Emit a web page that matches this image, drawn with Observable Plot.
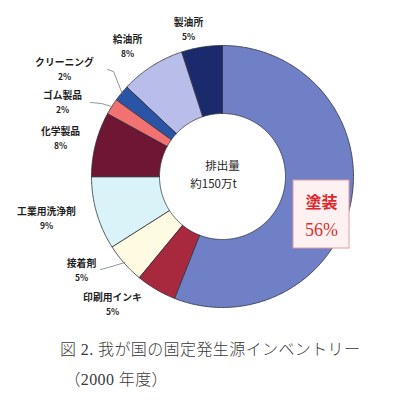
<!DOCTYPE html>
<html>
<head>
<meta charset="utf-8">
<script src="https://cdn.jsdelivr.net/npm/d3@7"></script>
<script src="https://cdn.jsdelivr.net/npm/@observablehq/plot@0.6"></script>
<style>
  html, body { margin: 0; padding: 0; background: #fff; }
  #chart { width: 400px; }
  #caption {
    font-family: "Liberation Serif", "Noto Sans CJK JP", serif;
    font-size: 16px; line-height: 30px; color: #3a3a3a;
    padding-left: 60px; letter-spacing: 0.4px; font-weight: 300;
  }
</style>
</head>
<body>
<div id="chart"></div>
<div id="caption">図 2. 我が国の固定発生源インベントリー<br>&nbsp;（2000 年度）</div>
<script>
// ---- data (clockwise from 12 o'clock) ----
const categories = ["塗装", "印刷用インキ", "接着剤", "工業用洗浄剤", "化学製品", "ゴム製品", "クリーニング", "給油所", "製油所"];
const shares = [56, 5, 5, 9, 8, 2, 2, 8, 5];
const centerLines = ["排出量", "約150万t"];

// ---- styles / layout ----
const colors = ["#6f80c6", "#a8283e", "#fffbe2", "#d9f3f9", "#6e1634", "#f27272", "#2a54a6", "#b9bde9", "#1b2a6c"];
const cx = 222, cy = 176, R = 131, r0 = 63;
// label anchor positions (layout only), index-aligned with categories
const labelPos = [[321, 214], [112, 297], [81, 263], [46, 211], [60, 131], [62, 95], [64, 62], [127, 39], [188, 22]];
// leader line elbows for small slices (layout only)
const leaders = {5: [[90, 102], [101, 103]], 6: [[107, 69], [113, 71]], 2: [[100, 269], [108, 267]]};

const total = d3.sum(shares);
const ends = d3.cumsum(shares);
const slices = categories.map((name, i) => {
  const a0 = (ends[i] - shares[i]) / total * 2 * Math.PI;
  const a1 = ends[i] / total * 2 * Math.PI;
  const n = Math.max(2, Math.ceil((a1 - a0) / 0.01));
  const pts = [];
  for (let k = 0; k <= n; k++) {
    const a = a0 + (a1 - a0) * k / n;
    pts.push({x: cx + R * Math.sin(a), y: cy - R * Math.cos(a)});
  }
  for (let k = n; k >= 0; k--) {
    const a = a0 + (a1 - a0) * k / n;
    pts.push({x: cx + r0 * Math.sin(a), y: cy - r0 * Math.cos(a)});
  }
  return {name, share: shares[i], color: colors[i], a0, a1, pts};
});

const labelRows = slices.slice(1).map((s, j) => {
  const i = j + 1;
  return {name: s.name, pct: s.share + "%", x: labelPos[i][0], y: labelPos[i][1]};
});

const leaderLines = Object.entries(leaders).map(([i, elbow]) => {
  const s = slices[+i];
  const am = (s.a0 + s.a1) / 2;
  return [
    {x: elbow[0][0], y: elbow[0][1]},
    {x: elbow[1][0], y: elbow[1][1]},
    {x: cx + (R - 1) * Math.sin(am), y: cy - (R - 1) * Math.cos(am)}
  ];
});

const mainLabel = {name: slices[0].name, pct: slices[0].share + "%", x: labelPos[0][0], y: labelPos[0][1]};
const font = "Noto Sans CJK JP";

const plot = Plot.plot({
  width: 400,
  height: 335,
  margin: 0,
  x: {domain: [0, 400], range: [0, 400], axis: null},
  y: {domain: [0, 335], range: [0, 335], axis: null},
  marks: [
    ...slices.map(s => Plot.line(s.pts, {x: "x", y: "y", fill: s.color, stroke: "#2e2e3a", strokeWidth: 0.8, curve: "linear-closed"})),
    ...leaderLines.map(l => Plot.line(l, {x: "x", y: "y", stroke: "#777", strokeWidth: 0.8})),
    Plot.text(labelRows, {x: "x", y: "y", text: "name", fontSize: 9.8, fontWeight: "bold", fontFamily: font, fill: "#1e1e1e"}),
    Plot.text(labelRows, {x: "x", y: "y", dy: 15, text: "pct", fontSize: 8.5, fontWeight: "bold", fontFamily: font, fill: "#1e1e1e"}),
    Plot.text([centerLines[0]], {x: [cx], y: [cy - 10], text: d => d, fontSize: 11.5, fontFamily: font, fill: "#1e1e1e", letterSpacing: 1}),
    Plot.text([centerLines[1]], {x: [cx - 9], y: [cy + 8], text: d => d, fontSize: 11.5, fontFamily: font, fill: "#1e1e1e"}),
    Plot.rect([mainLabel], {x1: d => d.x - 28, x2: d => d.x + 28, y1: d => d.y - 34, y2: d => d.y + 34, fill: "#fdf1f1", stroke: "#e39a9a", strokeWidth: 1}),
    Plot.text([mainLabel], {x: "x", y: "y", dy: -12, text: "name", fontSize: 16, fontWeight: "bold", fontFamily: font, fill: "#e0262a"}),
    Plot.text([mainLabel], {x: "x", y: "y", dy: 16, text: "pct", fontSize: 18, fontFamily: "Liberation Serif", fill: "#d8332f"})
  ]
});
document.getElementById("chart").append(plot);
</script>
</body>
</html>
